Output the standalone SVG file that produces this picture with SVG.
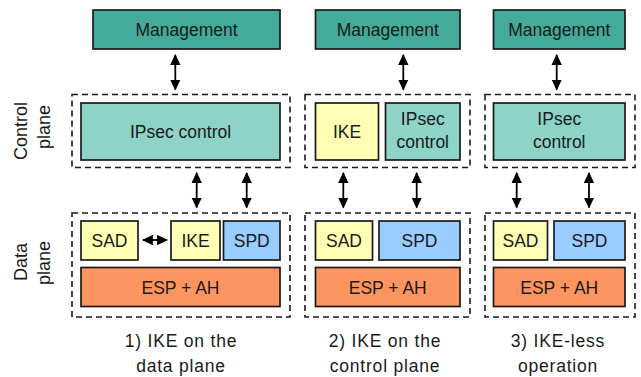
<svg xmlns="http://www.w3.org/2000/svg" width="641" height="377" viewBox="0 0 641 377">
<style>
text{font-family:"Liberation Sans","DejaVu Sans",sans-serif;font-size:17.5px;fill:#1a1a1a;text-anchor:middle}
.side{font-size:18px}
.box{stroke:#1a1a1a;stroke-width:1.7}
.mgmt{fill:#44aa99}
.ctl{fill:#8dd3c7}
.ike{fill:#ffffb3}
.spd{fill:#99ccff}
.esp{fill:#fc9560}
.dash{fill:none;stroke:#1a1a1a;stroke-width:1.6;stroke-dasharray:6 4}
.arr{stroke:#000;stroke-width:1.8;fill:none;marker-start:url(#ah);marker-end:url(#ah)}
.cap{font-size:17.5px;letter-spacing:0.8px}
</style>
<defs>
<marker id="ah" viewBox="0 0 10 10" refX="9" refY="5" markerWidth="11" markerHeight="11" markerUnits="userSpaceOnUse" orient="auto-start-reverse">
<path d="M0,0.3 L10,5 L0,9.7 Z" fill="#000"/>
</marker>
</defs>

<g id="labels">
<text class="side" transform="translate(27,131) rotate(-90)">Control</text>
<text class="side" transform="translate(50,127) rotate(-90)">plane</text>
<text class="side" transform="translate(27,262) rotate(-90)">Data</text>
<text class="side" transform="translate(50,263) rotate(-90)">plane</text>
</g>

<g id="planes">
<rect class="dash" x="72" y="94.5" width="218" height="73"/>
<rect class="dash" x="72" y="213" width="218" height="104"/>
<rect class="dash" x="305" y="94.5" width="165" height="73"/>
<rect class="dash" x="305" y="213" width="165" height="104"/>
<rect class="dash" x="485" y="94.5" width="150" height="73"/>
<rect class="dash" x="485" y="213" width="150" height="104"/>
</g>

<g id="p1-mgmt"><rect class="box mgmt" x="93" y="10" width="187" height="39"/><text x="186.5" y="35.5">Management</text></g>
<g id="p1-ipsec"><rect class="box ctl" x="81" y="103" width="199" height="57"/><text x="180.5" y="137.5">IPsec control</text></g>
<g id="p1-sad"><rect class="box ike" x="81" y="221" width="57" height="39"/><text x="109.5" y="247">SAD</text></g>
<g id="p1-ike"><rect class="box ike" x="171" y="221" width="49" height="39"/><text x="195.5" y="247">IKE</text></g>
<g id="p1-spd"><rect class="box spd" x="223.5" y="221" width="56.5" height="39"/><text x="251.75" y="247">SPD</text></g>
<g id="p1-esp"><rect class="box esp" x="81" y="267.5" width="199" height="39"/><text x="180.5" y="293.5">ESP + AH</text></g>

<g id="p2-mgmt"><rect class="box mgmt" x="315.5" y="10" width="144.5" height="39"/><text x="387.75" y="35.5">Management</text></g>
<g id="p2-ike"><rect class="box ike" x="315.5" y="103" width="63" height="57"/><text x="347" y="137.5">IKE</text></g>
<g id="p2-ipsec"><rect class="box ctl" x="385.5" y="103" width="74.5" height="57"/><text x="422.75" y="125">IPsec</text><text x="422.75" y="148">control</text></g>
<g id="p2-sad"><rect class="box ike" x="315.5" y="221" width="57" height="39"/><text x="344" y="247">SAD</text></g>
<g id="p2-spd"><rect class="box spd" x="379" y="221" width="81" height="39"/><text x="419.5" y="247">SPD</text></g>
<g id="p2-esp"><rect class="box esp" x="315.5" y="267.5" width="144.5" height="39"/><text x="387.75" y="293.5">ESP + AH</text></g>

<g id="p3-mgmt"><rect class="box mgmt" x="493.5" y="10" width="131.5" height="39"/><text x="559.25" y="35.5">Management</text></g>
<g id="p3-ipsec"><rect class="box ctl" x="493.5" y="103" width="131.5" height="57"/><text x="559.25" y="125">IPsec</text><text x="559.25" y="148">control</text></g>
<g id="p3-sad"><rect class="box ike" x="493.5" y="221" width="54" height="39"/><text x="520.5" y="247">SAD</text></g>
<g id="p3-spd"><rect class="box spd" x="554" y="221" width="71" height="39"/><text x="589.5" y="247">SPD</text></g>
<g id="p3-esp"><rect class="box esp" x="493.5" y="267.5" width="131.5" height="39"/><text x="559.25" y="293.5">ESP + AH</text></g>

<g id="connectors">
<line class="arr" x1="175.3" y1="55" x2="175.3" y2="89.5"/>
<line class="arr" x1="196.7" y1="173" x2="196.7" y2="207.5"/>
<line class="arr" x1="246.7" y1="173" x2="246.7" y2="207.5"/>
<line class="arr" x1="143" y1="240" x2="167" y2="240"/>
<line class="arr" x1="403.3" y1="55" x2="403.3" y2="89.5"/>
<line class="arr" x1="343.3" y1="173" x2="343.3" y2="207.5"/>
<line class="arr" x1="416.7" y1="173" x2="416.7" y2="207.5"/>
<line class="arr" x1="556.7" y1="55" x2="556.7" y2="89.5"/>
<line class="arr" x1="516.7" y1="173" x2="516.7" y2="207.5"/>
<line class="arr" x1="589" y1="173" x2="589" y2="207.5"/>
</g>

<g id="captions">
<text class="cap" x="181" y="347">1) IKE on the</text>
<text class="cap" x="181" y="371.5">data plane</text>
<text class="cap" x="385" y="347">2) IKE on the</text>
<text class="cap" x="385" y="371.5">control plane</text>
<text class="cap" x="558" y="347">3) IKE-less</text>
<text class="cap" x="558" y="371.5">operation</text>
</g>
</svg>
